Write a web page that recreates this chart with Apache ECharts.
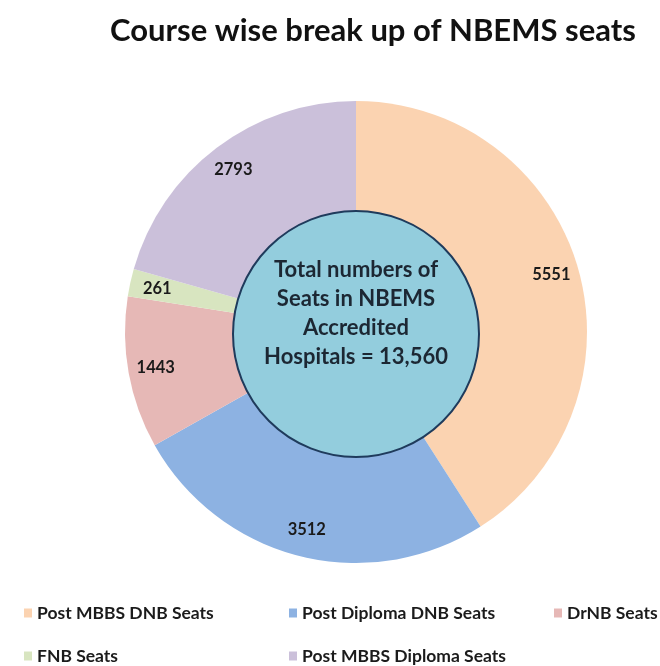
<!DOCTYPE html>
<html>
<head>
<meta charset="utf-8">
<script src="https://cdn.jsdelivr.net/npm/echarts@6/dist/echarts.min.js"></script>
<style>
  html, body { margin: 0; padding: 0; background: #fff; }
  #chart { width: 660px; height: 666px; }
</style>
</head>
<body>
<div id="chart"></div>
<script>
// data
var courses = ['Post MBBS DNB Seats', 'Post Diploma DNB Seats', 'DrNB Seats', 'FNB Seats', 'Post MBBS Diploma Seats'];
var seats = [5551, 3512, 1443, 261, 2793];
var colours = ['#FBD3B1', '#8DB2E2', '#E6B8B6', '#D8E5C0', '#CBC0DA'];

var total = seats.reduce(function (a, b) { return a + b; }, 0);

var pieData = courses.map(function (c, i) {
  return { name: c, value: seats[i], itemStyle: { color: colours[i] } };
});

var myChart = echarts.init(document.getElementById('chart'));

var font = 'Lato';
// legend layout: [left, top] for each item
var legendPos = [[19, 599], [284, 599], [549, 599], [19, 642], [284, 642]];
var legends = courses.map(function (c, i) {
  return {
    data: [c],
    left: legendPos[i][0],
    top: legendPos[i][1],
    icon: 'rect',
    itemWidth: 8,
    itemHeight: 9,
    selectedMode: false,
    textStyle: { fontFamily: font, fontSize: 17.5, fontWeight: 'bold', color: '#1b1b1b' }
  };
});

var option = {
  backgroundColor: '#fff',
  animation: false,
  title: {
    text: 'Course wise break up of NBEMS seats',
    left: 368,
    textAlign: 'center',
    top: 10,
    textStyle: { fontFamily: font, fontSize: 31, fontWeight: 'bold', color: '#111' }
  },
  legend: legends,
  graphic: [{
    type: 'circle',
    shape: { cx: 356, cy: 332, r: 175 },
    style: { fill: 'none', stroke: 'rgba(255,255,255,0.45)', lineWidth: 1 },
    silent: true
  }],
  series: [
    {
      // the slices
      type: 'pie',
      center: [356, 332],
      radius: [0, 231],
      startAngle: 90,
      clockwise: true,
      silent: true,
      label: { show: false },
      labelLine: { show: false },
      data: pieData
    },
    {
      // carries the value labels
      type: 'pie',
      center: [356, 332],
      radius: [170, 231],
      startAngle: 90,
      silent: true,
      itemStyle: { color: 'rgba(0,0,0,0)' },
      label: {
        show: true,
        position: 'inside',
        formatter: '{c}',
        fontFamily: font,
        fontSize: 16.5,
        fontWeight: 'bold',
        color: '#1a1a1a'
      },
      labelLine: { show: false },
      data: courses.map(function (c, i) { return { name: c, value: seats[i] }; }),
      z: 3
    },
    {
      // the total in the middle
      type: 'pie',
      center: [356, 334],
      radius: [0, 123],
      silent: true,
      itemStyle: { color: '#93CDDD', borderColor: '#1F3B5C', borderWidth: 2 },
      label: {
        show: true,
        position: 'center',
        formatter: function () {
          return 'Total numbers of\nSeats in NBEMS\nAccredited\nHospitals = ' + total.toLocaleString('en-US') + '\n{gap|}';
        },
        fontFamily: font,
        fontSize: 22,
        fontWeight: 'bold',
        lineHeight: 29,
        color: '#1c2733',
        rich: { gap: { lineHeight: 42, fontSize: 10 } }
      },
      labelLine: { show: false },
      data: [{ name: 'Total', value: total }],
      z: 4
    }
  ]
};

myChart.setOption(option);
</script>
</body>
</html>
